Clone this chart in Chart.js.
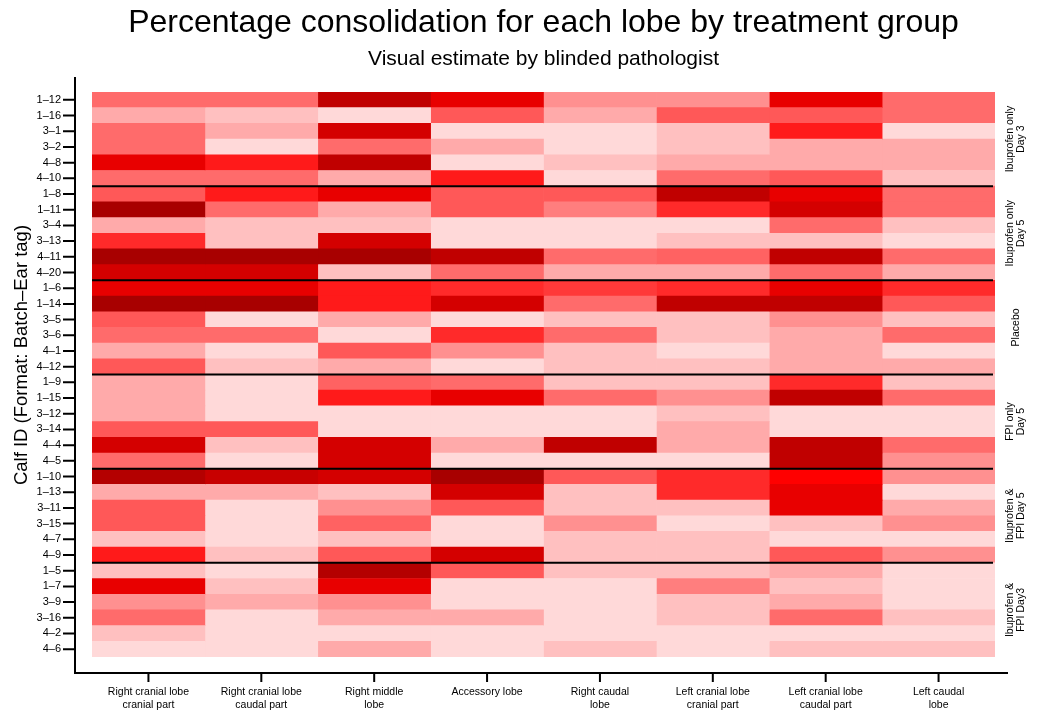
<!DOCTYPE html>
<html>
<head>
<meta charset="utf-8">
<script src="https://cdn.jsdelivr.net/npm/chart.js"></script>
<style>
body { margin:0; background:#fff; }
#wrap { width:1038px; height:711px; }
</style>
</head>
<body>
<div id="wrap"><canvas id="heat"></canvas></div>
<script>
var FONT = "'Liberation Sans', Arial, Helvetica, sans-serif";

var titleText = 'Percentage consolidation for each lobe by treatment group';
var subtitleText = 'Visual estimate by blinded pathologist';
var yTitleText = 'Calf ID (Format: Batch–Ear tag)';

var calves = ['1–12','1–16','3–1','3–2','4–8','4–10',
              '1–8','1–11','3–4','3–13','4–11','4–20',
              '1–6','1–14','3–5','3–6','4–1','4–12',
              '1–9','1–15','3–12','3–14','4–4','4–5',
              '1–10','1–13','3–11','3–15','4–7','4–9',
              '1–5','1–7','3–9','3–16','4–2','4–6'];

var lobes = [['Right cranial lobe','cranial part'], ['Right cranial lobe','caudal part'],
             ['Right middle','lobe'], ['Accessory lobe'], ['Right caudal','lobe'],
             ['Left cranial lobe','cranial part'], ['Left cranial lobe','caudal part'],
             ['Left caudal','lobe']];

// group name lines and last row index of each group
var groups = [['Ibuprofen only','Day 3'], ['Ibuprofen only','Day 5'], ['Placebo'],
              ['FPI only','Day 5'], ['Ibuprofen &','FPI Day 5'], ['Ibuprofen &','FPI Day3']];
var groupEnds = [5, 11, 17, 23, 29, 35];

// % consolidation, one array per lobe, rows in calf order
var rightCranialCranial = [40,20,40,40,80,40, 50,100,20,65,100,85, 80,100,50,40,20,50, 20,20,20,50,85,40, 95,20,50,50,10,70, 10,80,30,40,10,0];
var rightCranialCaudal  = [40,10,20,0,70,40, 70,40,10,10,100,85, 80,100,0,40,0,10, 0,0,0,50,10,0, 88,20,0,0,0,10, 0,10,20,0,0,0];
var rightMiddle         = [90,0,85,40,90,20, 80,20,10,85,100,10, 70,70,20,0,50,20, 45,70,0,0,85,85, 85,10,30,45,10,50, 95,80,30,20,0,20];
var accessory           = [80,50,0,20,0,70, 50,50,0,0,90,40, 65,85,0,65,30,0, 40,80,0,0,20,0, 100,85,50,0,0,85, 50,0,0,20,0,0];
var rightCaudal         = [30,20,0,0,10,0, 50,35,0,0,40,20, 60,40,10,40,10,10, 10,40,0,0,90,0, 50,10,10,30,10,10, 10,0,0,0,0,10];
var leftCranialCranial  = [30,50,10,10,20,40, 90,65,0,10,45,20, 65,90,10,10,0,10, 10,30,10,20,20,0, 65,65,10,0,10,10, 10,35,10,10,0,0];
var leftCranialCaudal   = [80,50,70,20,20,50, 80,85,40,10,90,40, 80,90,30,20,20,20, 65,90,0,0,90,90, 75,80,80,10,0,50, 20,10,20,40,0,10];
var leftCaudal          = [40,40,0,20,20,10, 40,40,10,0,40,20, 65,50,10,40,0,20, 10,40,0,0,40,30, 30,0,20,30,0,30, 0,0,0,10,0,10];

var lobeValues = [rightCranialCranial, rightCranialCaudal, rightMiddle, accessory,
                  rightCaudal, leftCranialCranial, leftCranialCaudal, leftCaudal];

// colour ramp: pct, r, g, b
var ramp = [[0,255,217,217],[10,255,192,192],[20,255,170,170],[30,255,144,144],
            [40,255,107,107],[50,255,88,88],[65,255,42,42],[70,255,26,26],
            [75,255,0,0],[80,232,0,0],[85,212,0,0],[90,192,0,0],[100,168,0,0]];

function shade(p) {
    for (var i = 1; i < ramp.length; i++) {
        if (p <= ramp[i][0]) {
            var a = ramp[i-1], b = ramp[i];
            var t = (p - a[0]) / (b[0] - a[0]);
            var c = [1,2,3].map(k => Math.round(a[k] + (b[k]-a[k])*t));
            return 'rgb(' + c.join(',') + ')';
        }
    }
    return 'rgb(168,0,0)';
}

var frame = {
    id: 'frame',
    afterDraw: function(chart) {
        var c = chart.ctx, x = chart.scales.x, y = chart.scales.y, area = chart.chartArea;
        var mid = (area.left + area.right) / 2;
        c.save();

        // titles, centred over the plot region
        c.fillStyle = '#000';
        c.textAlign = 'center';
        c.textBaseline = 'alphabetic';
        c.font = '32px ' + FONT;
        c.fillText(titleText, mid, 32);
        c.font = '21px ' + FONT;
        c.fillText(subtitleText, mid, 65);

        // y axis title
        c.save();
        c.translate(22, 355);
        c.rotate(-Math.PI / 2);
        c.textBaseline = 'middle';
        c.font = '18.5px ' + FONT;
        c.fillText(yTitleText, 0, 0);
        c.restore();

        c.strokeStyle = '#000';
        c.lineWidth = 2;
        c.beginPath();
        c.moveTo(75, 77); c.lineTo(75, 673);
        c.moveTo(74, 673); c.lineTo(1008, 673);
        calves.forEach((v, i) => {
            var py = y.getPixelForValue(i);
            c.moveTo(63, py); c.lineTo(75, py);
        });
        lobes.forEach((v, i) => {
            var px = x.getPixelForValue(i + 0.5);
            c.moveTo(px, 673); c.lineTo(px, 682);
        });
        groupEnds.slice(0, -1).forEach(e => {
            var py = (y.getPixelForValue(e) + y.getPixelForValue(e + 1)) / 2;
            c.moveTo(area.left, py); c.lineTo(area.right - 2, py);
        });
        c.stroke();

        // group names on the right
        c.font = '10.5px ' + FONT;
        c.textAlign = 'center';
        c.textBaseline = 'middle';
        var start = 0;
        groups.forEach((g, k) => {
            var end = groupEnds[k];
            var cy = (y.getPixelForValue(start) + y.getPixelForValue(end)) / 2;
            c.save();
            c.translate(1016, cy);
            c.rotate(-Math.PI / 2);
            g.forEach((line, j) => {
                c.fillText(line, 0, (j - (g.length - 1) / 2) * 11);
            });
            c.restore();
            start = end + 1;
        });
        c.restore();
    }
};

new Chart(document.getElementById('heat'), {
    type: 'bar',
    data: {
        labels: calves,
        datasets: lobeValues.map((vals, j) => ({
            label: lobes[j].join(' '),
            data: calves.map(() => [j, j + 1]),
            backgroundColor: vals.map(shade),
            borderWidth: 0,
            barPercentage: 1,
            categoryPercentage: 1,
            grouped: false
        }))
    },
    options: {
        indexAxis: 'y',
        responsive: true,
        maintainAspectRatio: false,
        animation: false,
        layout: { padding: { left: 0, right: 43, top: 92, bottom: 0 } },
        plugins: {
            legend: { display: false },
            tooltip: { enabled: false }
        },
        scales: {
            x: {
                type: 'linear',
                min: 0,
                max: 8,
                grid: { display: false, drawTicks: false },
                border: { display: false },
                afterBuildTicks: function(s) {
                    s.ticks = lobes.map((l, i) => ({ value: i + 0.5 }));
                },
                afterFit: function(s) { s.height = 54; },
                ticks: {
                    autoSkip: false,
                    maxRotation: 0,
                    padding: 29,
                    color: '#000',
                    font: { size: 10.5, family: FONT, lineHeight: 1.2 },
                    callback: function(v) { return lobes[Math.floor(v)]; }
                }
            },
            y: {
                type: 'category',
                grid: { display: false, drawTicks: false },
                border: { display: false },
                afterFit: function(s) { s.width = 92; },
                ticks: {
                    autoSkip: false,
                    padding: 31,
                    color: '#000',
                    font: { size: 11, family: FONT }
                }
            }
        }
    },
    plugins: [frame]
});
</script>
</body>
</html>
